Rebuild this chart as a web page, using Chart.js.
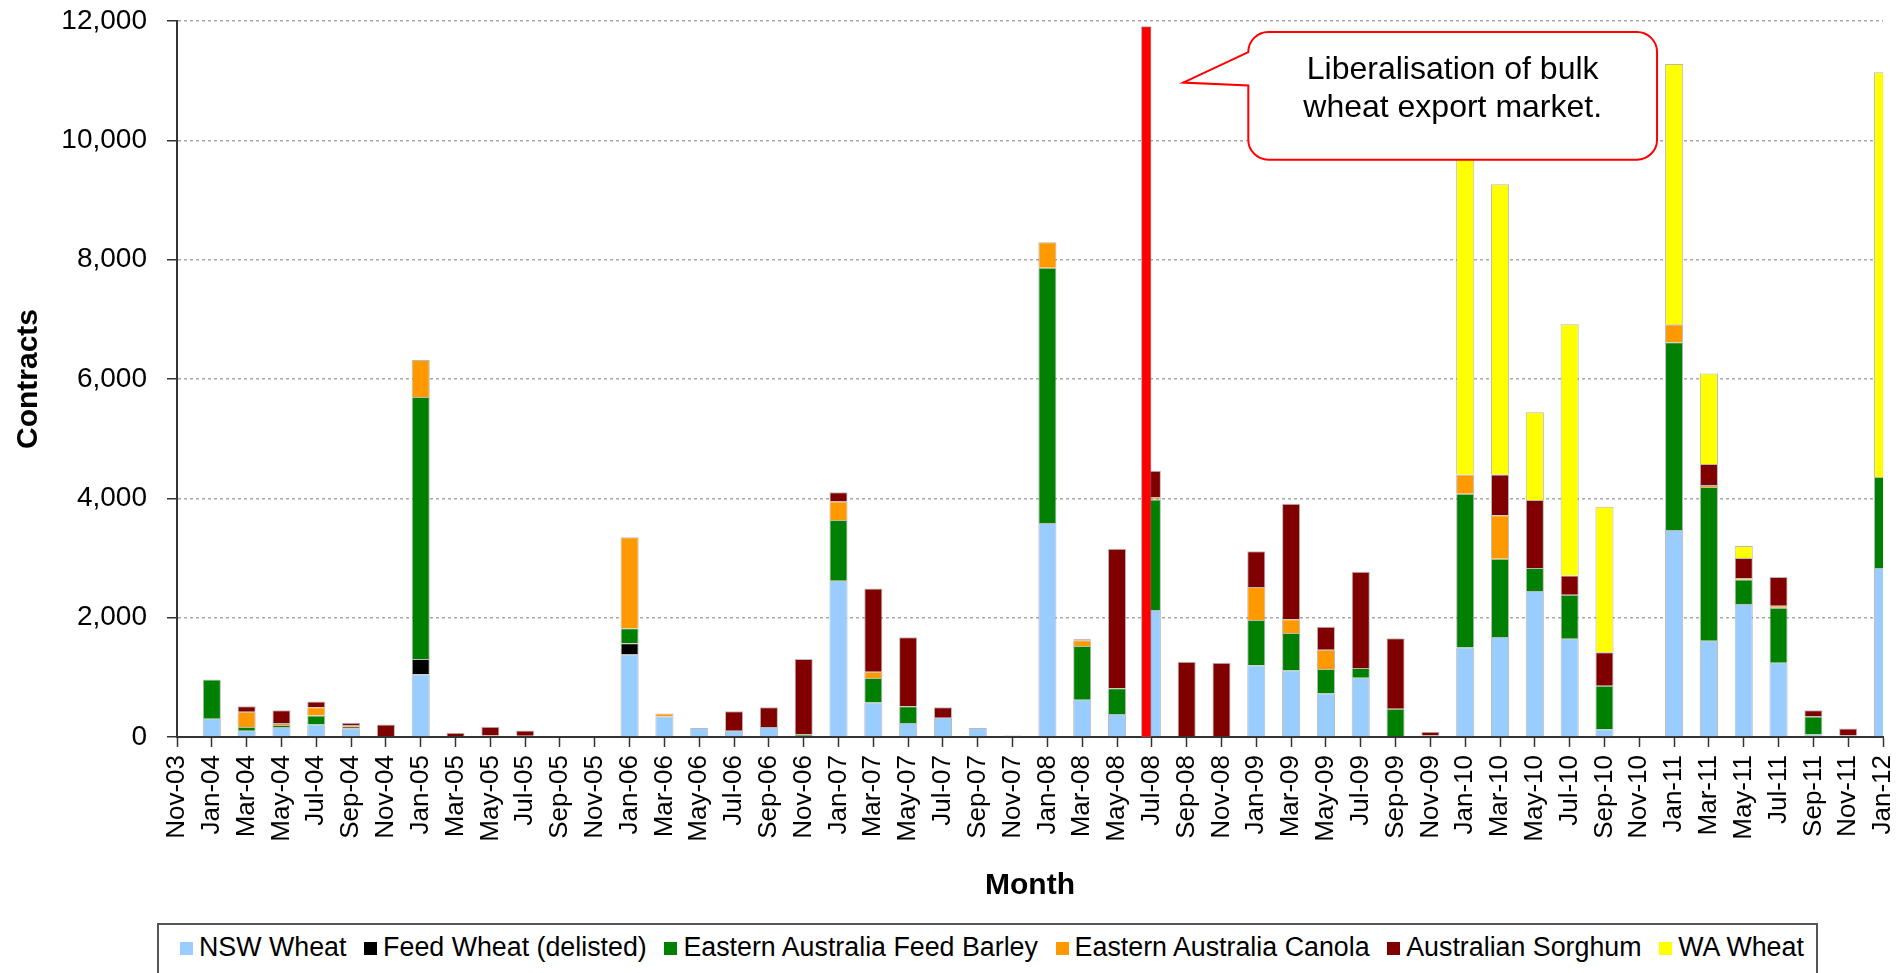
<!DOCTYPE html>
<html>
<head>
<meta charset="utf-8">
<title>Contracts by month</title>
<script src="https://cdn.jsdelivr.net/npm/chart.js@4.4.1/dist/chart.umd.min.js"></script>
<style>
  html, body { margin: 0; padding: 0; background: #fff; overflow: hidden; }
  #wrap { position: relative; width: 1899px; height: 973px; }
  #legend {
    position: absolute; left: 157px; top: 923px; width: 1661px; height: 70px;
    box-sizing: border-box; border: 2px solid #555; background: #fff;
    display: flex; align-items: flex-start; padding: 7px 0 0 21px;
    font-family: 'Liberation Sans', Arial, sans-serif; font-size: 26.8px; line-height: 30px; color: #000;
  }
  #legend .item { display: flex; align-items: center; margin-right: 17.7px; white-space: nowrap; }
  #legend .box { width: 13px; height: 13px; margin: 2px 6px 0 0; }
</style>
</head>
<body>
<div id="wrap">
  <canvas id="contractsChart" width="1899" height="973"></canvas>
  <div id="legend"></div>
</div>
<script>
// Chart data
const months = [
    'Nov-03', 'Jan-04', 'Mar-04', 'May-04', 'Jul-04', 'Sep-04', 'Nov-04',
    'Jan-05', 'Mar-05', 'May-05', 'Jul-05', 'Sep-05', 'Nov-05',
    'Jan-06', 'Mar-06', 'May-06', 'Jul-06', 'Sep-06', 'Nov-06',
    'Jan-07', 'Mar-07', 'May-07', 'Jul-07', 'Sep-07', 'Nov-07',
    'Jan-08', 'Mar-08', 'May-08', 'Jul-08', 'Sep-08', 'Nov-08',
    'Jan-09', 'Mar-09', 'May-09', 'Jul-09', 'Sep-09', 'Nov-09',
    'Jan-10', 'Mar-10', 'May-10', 'Jul-10', 'Sep-10', 'Nov-10',
    'Jan-11', 'Mar-11', 'May-11', 'Jul-11', 'Sep-11', 'Nov-11',
    'Jan-12'
];

const nswWheat = [
    0, 305, 104, 169, 209, 145, 0,
    1051, 0, 0, 0, 0, 0,
    1381, 345, 152, 104, 169, 0,
    2617, 578, 233, 321, 152, 24,
    3588, 626, 385, 2127, 0, 0,
    1204, 1116, 730, 995, 0, 0,
    1501, 1678, 2448, 1646, 128, 0,
    3468, 1613, 2231, 1244, 40, 0,
    2834
];

const feedWheat = [
    0, 0, 0, 0, 0, 25, 0,
    257, 0, 0, 0, 0, 0,
    192, 0, 0, 0, 0, 0,
    0, 0, 0, 0, 0, 0,
    0, 0, 0, 0, 0, 0,
    0, 0, 0, 0, 0, 0,
    0, 0, 0, 0, 0, 0,
    0, 0, 0, 0, 0, 0,
    0
];

const feedBarley = [
    0, 658, 65, 31, 152, 0, 0,
    4392, 0, 25, 22, 0, 0,
    249, 0, 0, 0, 0, 40,
    1019, 409, 281, 0, 0, 0,
    4278, 899, 434, 1854, 0, 0,
    755, 626, 410, 161, 474, 24,
    2577, 1308, 386, 738, 731, 0,
    3146, 2577, 410, 923, 305, 24,
    1525
];

const canola = [
    0, 0, 256, 33, 137, 30, 0,
    617, 0, 0, 0, 0, 0,
    1525, 48, 0, 0, 0, 0,
    313, 105, 0, 0, 0, 0,
    426, 96, 0, 33, 0, 0,
    553, 233, 321, 0, 0, 0,
    321, 731, 0, 0, 0, 0,
    305, 32, 24, 32, 0, 0,
    0
];

const sorghum = [
    0, 0, 89, 217, 96, 40, 210,
    0, 70, 145, 85, 0, 0,
    0, 0, 0, 329, 329, 1268,
    153, 1396, 1156, 177, 0, 0,
    0, 16, 2336, 449, 1260, 1244,
    602, 1934, 385, 1613, 1180, 64,
    0, 682, 1139, 321, 562, 0,
    0, 353, 337, 482, 105, 120,
    0
];

const waWheat = [
    0, 0, 0, 0, 0, 0, 0,
    0, 0, 0, 0, 0, 0,
    0, 0, 0, 0, 0, 0,
    0, 0, 0, 0, 0, 0,
    0, 0, 0, 0, 0, 0,
    0, 0, 0, 0, 0, 0,
    5338, 4864, 1469, 4214, 2440, 0,
    4359, 1517, 201, 0, 0, 0,
    6783
];

const yTickValues = [0, 2000, 4000, 6000, 8000, 10000, 12000];

// Liberalisation marker: position in category units (between May-08 and Jul-08) and its height
const reformPosition = 27.84;
const reformHeight = 11900;
const calloutLines = ['Liberalisation of bulk', 'wheat export market.'];

const fontFamily = "'Liberation Sans', Arial, Helvetica, sans-serif";
Chart.defaults.font.family = fontFamily;
Chart.defaults.color = '#000';

// Draws the red vertical line and the speech-bubble note
const reformMarker = {
    id: 'reformMarker',
    afterDatasetsDraw(chart) {
        const { ctx, scales: { x, y } } = chart;
        const px = x.getPixelForValue(reformPosition);
        const top = y.getPixelForValue(reformHeight);
        const base = y.getPixelForValue(0);

        ctx.save();
        ctx.fillStyle = '#ff0000';
        ctx.fillRect(px - 4.5, top, 9, base - top);
        ctx.strokeStyle = 'rgba(120,120,120,0.5)';
        ctx.lineWidth = 1;
        ctx.strokeRect(px - 4.5, top, 9, base - top);

        // callout box, anchored to the scales
        const left = x.getPixelForValue(30.77);
        const right = x.getPixelForValue(42.51);
        const boxTop = y.getPixelForValue(11815);
        const boxBottom = y.getPixelForValue(9676);
        const tipX = x.getPixelForValue(28.9);
        const tipY = y.getPixelForValue(10968);
        const pointerLow = y.getPixelForValue(10918);
        const r = 20;

        ctx.beginPath();
        ctx.moveTo(tipX, tipY);
        ctx.lineTo(left, boxTop + r);
        ctx.arcTo(left, boxTop, left + r, boxTop, r);
        ctx.lineTo(right - r, boxTop);
        ctx.arcTo(right, boxTop, right, boxTop + r, r);
        ctx.lineTo(right, boxBottom - r);
        ctx.arcTo(right, boxBottom, right - r, boxBottom, r);
        ctx.lineTo(left + r, boxBottom);
        ctx.arcTo(left, boxBottom, left, boxBottom - r, r);
        ctx.lineTo(left, pointerLow);
        ctx.closePath();
        ctx.fillStyle = '#fff';
        ctx.fill();
        ctx.strokeStyle = '#ff0000';
        ctx.lineWidth = 2;
        ctx.stroke();

        ctx.fillStyle = '#000';
        ctx.font = '32px ' + fontFamily;
        ctx.textAlign = 'center';
        ctx.textBaseline = 'alphabetic';
        const cx = (left + right) / 2;
        calloutLines.forEach((line, i) => {
            ctx.fillText(line, cx, boxTop + 46.5 + i * 38.5);
        });
        ctx.restore();
    }
};

function makeDataset(label, data, color) {
    return {
        label: label,
        data: data,
        backgroundColor: color,
        borderColor: 'rgba(128,128,128,0.55)',
        borderWidth: 1,
        barPercentage: 0.52,
        categoryPercentage: 1,
        clip: 0
    };
}

const ctx = document.getElementById('contractsChart').getContext('2d');
const chart = new Chart(ctx, {
    type: 'bar',
    data: {
        labels: months,
        datasets: [
            makeDataset('NSW Wheat', nswWheat, '#99ccff'),
            makeDataset('Feed Wheat (delisted)', feedWheat, '#000000'),
            makeDataset('Eastern Australia Feed Barley', feedBarley, '#008000'),
            makeDataset('Eastern Australia Canola', canola, '#ff9900'),
            makeDataset('Australian Sorghum', sorghum, '#800000'),
            makeDataset('WA Wheat', waWheat, '#ffff00')
        ]
    },
    options: {
        responsive: false,
        animation: false,
        devicePixelRatio: 1,
        layout: { padding: { top: 21, right: 16, bottom: 0, left: 0 } },
        plugins: {
            legend: { display: false },
            tooltip: { enabled: false }
        },
        scales: {
            x: {
                stacked: true,
                offset: false,
                grid: {
                    offset: false,
                    drawOnChartArea: false,
                    drawTicks: true,
                    tickLength: 10,
                    tickColor: '#333',
                    tickWidth: 1.5
                },
                border: { color: '#333', width: 2 },
                ticks: {
                    autoSkip: false,
                    minRotation: 90,
                    maxRotation: 90,
                    padding: 8,
                    font: { size: 26 },
                    color: '#000'
                },
                title: {
                    display: true,
                    text: 'Month',
                    font: { size: 30, weight: 'bold' },
                    color: '#000',
                    padding: { top: 0, bottom: 69 }
                },
                afterFit(scale) {
                    scale.height = 236;
                    // let the layout padding alone decide the plot edges
                    scale.paddingLeft = 0;
                    scale.paddingRight = 0;
                }
            },
            y: {
                stacked: true,
                min: yTickValues[0],
                max: yTickValues[yTickValues.length - 1],
                afterBuildTicks(scale) {
                    scale.ticks = yTickValues.map(v => ({ value: v }));
                },
                grid: {
                    color: '#a8a8a8',
                    lineWidth: 1.5,
                    drawTicks: true,
                    tickLength: 10,
                    tickColor: '#333',
                    tickWidth: 1.5
                },
                border: { color: '#333', width: 2, dash: [3, 3] },
                ticks: {
                    padding: 20,
                    font: { size: 28 },
                    color: '#000'
                },
                title: {
                    display: true,
                    text: 'Contracts',
                    font: { size: 30, weight: 'bold' },
                    color: '#000',
                    padding: { top: 11, bottom: 0 }
                },
                afterFit(scale) {
                    scale.width = 177;
                    scale.paddingTop = 0;
                    scale.paddingBottom = 0;
                }
            }
        }
    },
    plugins: [reformMarker]
});

// HTML legend built from the datasets
const legendEl = document.getElementById('legend');
chart.data.datasets.forEach(ds => {
    const item = document.createElement('span');
    item.className = 'item';
    const box = document.createElement('span');
    box.className = 'box';
    box.style.background = ds.backgroundColor;
    const text = document.createElement('span');
    text.textContent = ds.label;
    item.append(box, text);
    legendEl.append(item);
});
</script>
</body>
</html>
